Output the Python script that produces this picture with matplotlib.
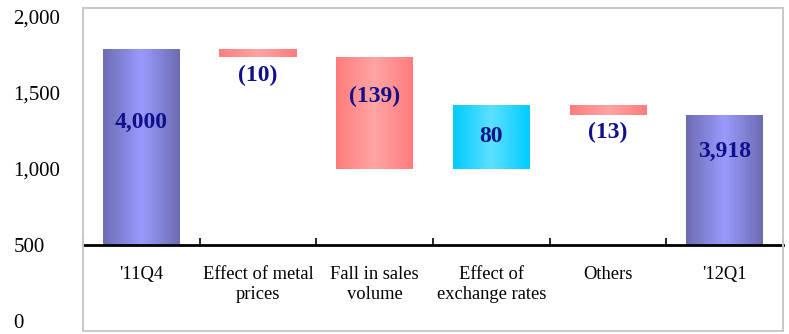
import numpy as np
import matplotlib.pyplot as plt
from matplotlib.colors import LinearSegmentedColormap
from matplotlib.patches import Rectangle

# waterfall data
categories = ["'11Q4", "Effect of metal\nprices", "Fall in sales\nvolume",
              "Effect of\nexchange rates", "Others", "'12Q1"]
values = [4000, -10, -139, 80, -13, 3918]
is_total = [True, False, False, False, False, True]
value_text = ["4,000", "(10)", "(139)", "80", "(13)", "3,918"]

yticks = [0, 500, 1000, 1500, 2000]
ytick_text = ["0", "500", "1,000", "1,500", "2,000"]

# drawing scale: the axis is broken, running levels are drawn around 1,000
base = 500
anchor, anchor_pos, k = 3851, 1000, 5.3
def to_axis(v):
    return anchor_pos + (v - anchor) * k

# label centre heights on the drawing scale
label_y = [1303, 1618, 1476, 1212, 1239, 1112]

plt.rcParams['font.family'] = ['Liberation Serif', 'DejaVu Serif']

fig = plt.figure(figsize=(7.89, 3.34), dpi=100)
ax = fig.add_axes([83/789, 3/334, 700/789, 323/334])

bottoms, heights, kinds = [], [], []
level = 0
for v, tot in zip(values, is_total):
    if tot:
        level = v
        bottoms.append(base)
        heights.append(to_axis(v) - base)
        kinds.append('total')
    else:
        lo, hi = sorted([to_axis(level), to_axis(level + v)])
        bottoms.append(lo)
        heights.append(hi - lo)
        kinds.append('up' if v > 0 else 'down')
        level += v

x = np.arange(len(categories))
bars = ax.bar(x, heights, bottom=bottoms, width=0.66, color='none', linewidth=0, zorder=2)

shades = {'total': ('#6c6cb2', '#9a9aff'),
          'down': ('#ff7c7c', '#ffa4a4'),
          'up': ('#00ccff', '#5ce0ff')}
grad = np.linspace(0, 1, 256).reshape(1, -1)
for b, kind in zip(bars, kinds):
    dark, light = shades[kind]
    cmap = LinearSegmentedColormap.from_list(kind, [(0, dark), (0.5, light), (1, dark)])
    x0, y0 = b.get_x(), b.get_y()
    im = ax.imshow(grad, cmap=cmap, extent=[x0, x0 + b.get_width(), y0, y0 + b.get_height()],
                   aspect='auto', zorder=2, interpolation='bicubic')
    im.set_clip_path(b)

for xi, txt, ly in zip(x, value_text, label_y):
    ax.text(xi, ly, txt, ha='center', va='center', fontsize=17, fontweight='bold',
            color='#10108c', zorder=4)

ax.set_xlim(-0.5, 5.5)
ax.set_ylim(-66, 2059)

# category axis crosses at 500
for s in ['top', 'left', 'right']:
    ax.spines[s].set_visible(False)
ax.spines['bottom'].set_position(('data', base))
ax.spines['bottom'].set_linewidth(2)
ax.spines['bottom'].set_zorder(3)
ax.set_xticks(x)
ax.set_xticklabels(categories, fontsize=13.3, linespacing=1.25)
ax.set_xticks(np.arange(-0.5, 6, 1), minor=True)
ax.tick_params(axis='x', which='major', length=0, pad=15)
ax.tick_params(axis='x', which='minor', direction='in', length=5, width=1.2)

ax.set_yticks(yticks)
ax.set_yticklabels(ytick_text, fontsize=15)
ax.tick_params(axis='y', length=0, pad=50)
for lab in ax.get_yticklabels():
    lab.set_horizontalalignment('left')

ax.add_patch(Rectangle((0, 0), 1, 1, transform=ax.transAxes, fill=False,
                       edgecolor='#c8c8c8', linewidth=1.4, clip_on=False, zorder=5))

plt.savefig('out.png', dpi=100)
